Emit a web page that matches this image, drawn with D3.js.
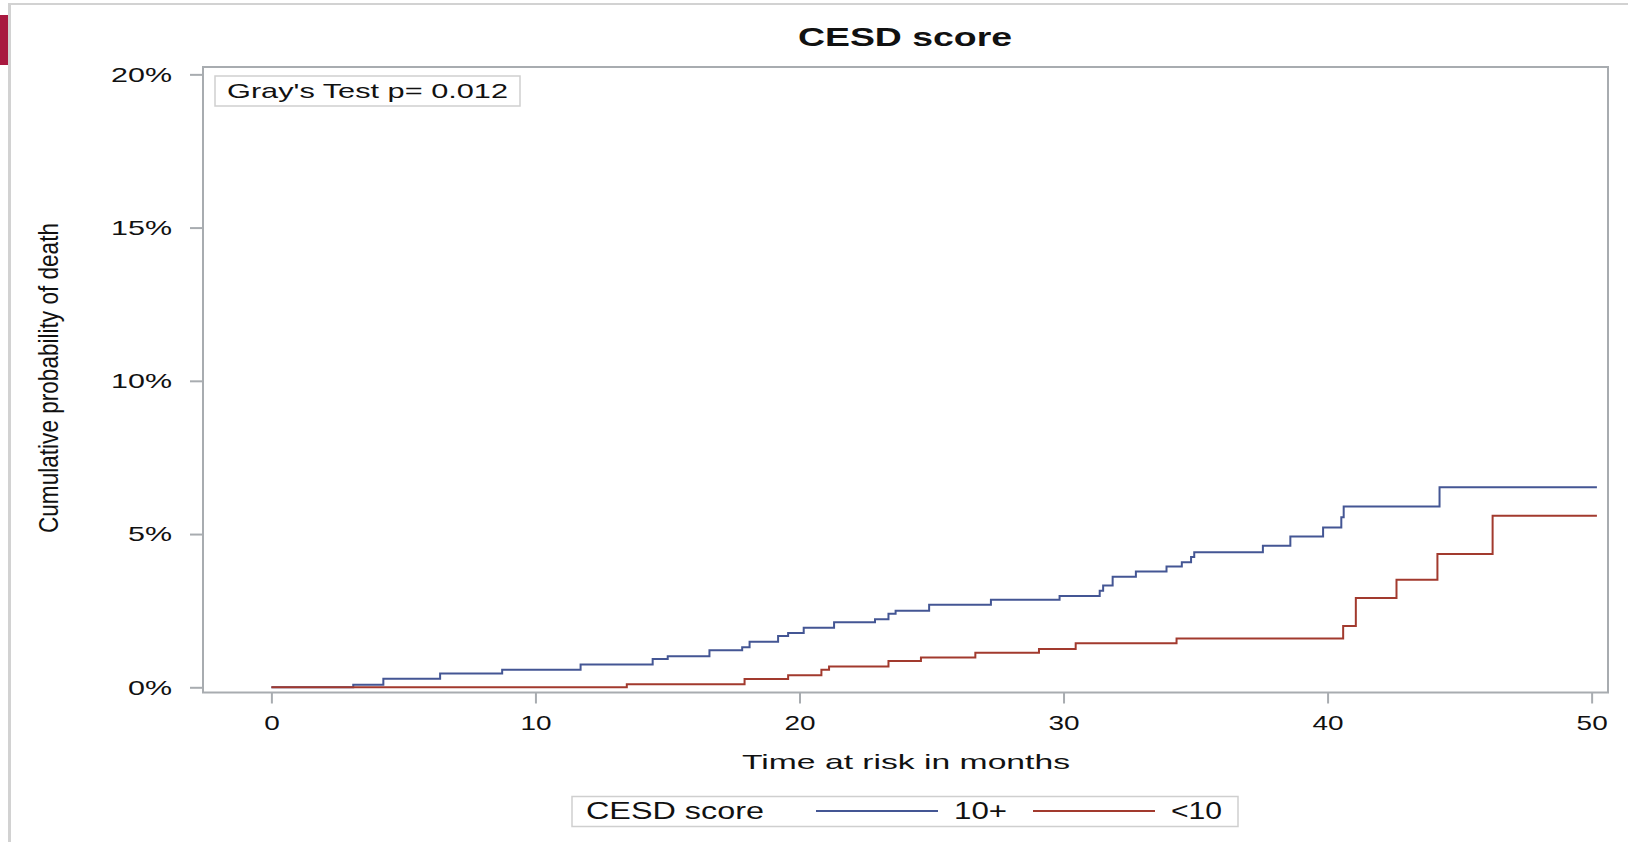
<!DOCTYPE html>
<html>
<head>
<meta charset="utf-8">
<script src="https://cdn.jsdelivr.net/npm/d3@7"></script>
<style>
  html, body { margin: 0; padding: 0; background: #fff; }
  svg text { font-family: "Liberation Sans", Arial, sans-serif; fill: #111; }
</style>
</head>
<body>
<svg id="chart" width="1628" height="842"></svg>
<script>
// ---- data (time in months, cumulative probability in %) ----
const title = "CESD score";
const xTicks = [0, 10, 20, 30, 40, 50];
const yTicks = [0, 5, 10, 15, 20];
const yTickLabels = ["0%", "5%", "10%", "15%", "20%"];
const xLabel = "Time at risk in months";
const yLabel = "Cumulative probability of death";
const testLabel = "Gray's Test p= 0.012";
const legendTitle = "CESD score";
const seriesNames = ["10+", "<10"];
const seriesColors = ["#445694", "#A23A2E"];

const highTime = [0, 3.10, 4.24, 6.39, 8.74, 11.71, 14.44, 15.01, 16.59, 17.83, 18.11, 19.19, 19.57, 20.16, 21.31, 22.86, 23.37, 23.64, 24.91, 27.25, 29.85, 31.37, 31.50, 31.86, 32.74, 33.90, 34.48, 34.83, 34.95, 37.55, 38.59, 39.83, 40.52, 40.61, 44.24, 50.2];
const highProb = [0, 0.08, 0.28, 0.45, 0.57, 0.74, 0.92, 1.01, 1.21, 1.31, 1.49, 1.67, 1.77, 1.94, 2.12, 2.22, 2.40, 2.50, 2.69, 2.86, 2.98, 3.15, 3.32, 3.61, 3.78, 3.94, 4.08, 4.25, 4.41, 4.62, 4.92, 5.21, 5.55, 5.90, 6.53, 6.53];

const lowTime = [0, 13.46, 17.92, 19.57, 20.83, 21.12, 23.37, 24.60, 26.66, 29.07, 30.46, 34.28, 40.59, 41.07, 42.61, 44.16, 46.25, 50.2];
const lowProb = [0, 0.10, 0.27, 0.39, 0.57, 0.68, 0.86, 0.97, 1.13, 1.25, 1.44, 1.59, 2.00, 2.91, 3.51, 4.35, 5.60, 5.60];

// ---- layout ----
const svg = d3.select("#chart");
const frame = { left: 203, right: 1608, top: 67, bottom: 692.5 };
const x = d3.scaleLinear().domain([-2.59, 50.62]).range([frame.left, frame.right]);
const y = d3.scaleLinear().domain([-0.17, 20.24]).range([frame.bottom, frame.top]);

function stretch(sel, k) {
  sel.each(function () {
    const w = this.getComputedTextLength();
    d3.select(this).attr("textLength", w * k).attr("lengthAdjust", "spacingAndGlyphs");
  });
}
function fitTo(sel, w) {
  sel.attr("textLength", w).attr("lengthAdjust", "spacingAndGlyphs");
}

// page decorations
svg.append("line").attr("x1", 9.5).attr("x2", 9.5).attr("y1", 3).attr("y2", 842)
  .attr("stroke", "#d2d2d2").attr("stroke-width", 3);
svg.append("line").attr("x1", 8).attr("x2", 1628).attr("y1", 4).attr("y2", 4)
  .attr("stroke", "#d2d2d2").attr("stroke-width", 2);
svg.append("rect").attr("x", 0).attr("y", 15).attr("width", 8).attr("height", 50).attr("fill", "#A8183F");

// title
svg.append("text").attr("x", 905).attr("y", 46).attr("text-anchor", "middle")
  .attr("font-size", 25).attr("font-weight", "bold").text(title)
  .call(fitTo, 214);

// axes
const yAxis = d3.axisLeft(y).tickValues(yTicks).tickSize(13).tickPadding(18)
  .tickFormat((d, i) => yTickLabels[i]);
const gy = svg.append("g").attr("transform", `translate(${frame.left},0)`).call(yAxis);
gy.select(".domain").remove();
gy.selectAll(".tick line").attr("stroke", "#a8acb0").attr("stroke-width", 2);
gy.selectAll(".tick text").attr("font-size", 21).attr("fill", "#111").attr("font-family", "Liberation Sans, Arial, sans-serif")
  .call(stretch, 1.45);

const xAxis = d3.axisBottom(x).tickValues(xTicks).tickSize(11).tickPadding(12);
const gx = svg.append("g").attr("transform", `translate(0,${frame.bottom})`).call(xAxis);
gx.select(".domain").remove();
gx.selectAll(".tick line").attr("stroke", "#a8acb0").attr("stroke-width", 2);
gx.selectAll(".tick text").attr("font-size", 21).attr("fill", "#111").attr("font-family", "Liberation Sans, Arial, sans-serif")
  .call(stretch, 1.33);

// frame
svg.append("rect").attr("x", frame.left).attr("y", frame.top)
  .attr("width", frame.right - frame.left).attr("height", frame.bottom - frame.top)
  .attr("fill", "none").attr("stroke", "#a8acb0").attr("stroke-width", 2);

// axis labels
svg.append("text").attr("x", 906).attr("y", 768.5).attr("text-anchor", "middle")
  .attr("font-size", 21).text(xLabel).call(fitTo, 328);
svg.append("text").attr("transform", "translate(58,378) rotate(-90)").attr("text-anchor", "middle")
  .attr("font-size", 27).text(yLabel).call(fitTo, 310);

// Gray's test box
svg.append("rect").attr("x", 215).attr("y", 76).attr("width", 305).attr("height", 30)
  .attr("fill", "#fff").attr("stroke", "#cfcfcf").attr("stroke-width", 1.5);
svg.append("text").attr("x", 227).attr("y", 98).attr("font-size", 21).text(testLabel).call(fitTo, 281);

// curves
const line = d3.line().x(d => x(d[0])).y(d => y(d[1])).curve(d3.curveStepAfter);
const series = [d3.zip(highTime, highProb), d3.zip(lowTime, lowProb)];
svg.append("g").selectAll("path").data(series).join("path")
  .attr("d", line).attr("fill", "none")
  .attr("stroke", (d, i) => seriesColors[i]).attr("stroke-width", 2);

// legend
const lg = svg.append("g");
lg.append("rect").attr("x", 572).attr("y", 796.5).attr("width", 666).attr("height", 30)
  .attr("fill", "#fff").attr("stroke", "#cfcfcf").attr("stroke-width", 1.5);
lg.append("text").attr("x", 586).attr("y", 819).attr("font-size", 23).text(legendTitle).call(fitTo, 178);
const legItems = [
  { x1: 816, x2: 938, tx: 954, tw: 53 },
  { x1: 1033, x2: 1155, tx: 1171, tw: 51 }
];
legItems.forEach((it, i) => {
  lg.append("line").attr("x1", it.x1).attr("x2", it.x2).attr("y1", 811).attr("y2", 811)
    .attr("stroke", seriesColors[i]).attr("stroke-width", 2);
  lg.append("text").attr("x", it.tx).attr("y", 819).attr("font-size", 23).text(seriesNames[i]).call(fitTo, it.tw);
});
</script>
</body>
</html>
